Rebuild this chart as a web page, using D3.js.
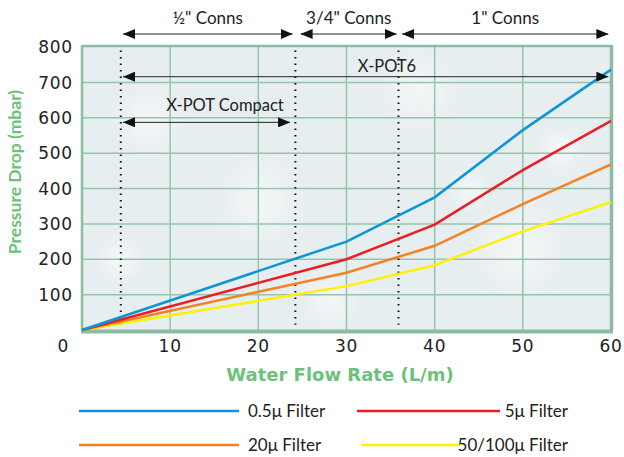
<!DOCTYPE html>
<html lang="en">
<head>
  <meta charset="UTF-8">
  <title>Pressure drop vs water flow rate</title>
  <script src="https://d3js.org/d3.v7.min.js"></script>
  <style>
    body { margin: 0; background: #fff; }
    svg { display: block; }
  </style>
</head>
<body>
  <div id="chart"></div>
  <script>
    // flow rate (L/m) and pressure drop (mbar) per filter
    const flowRate = [0, 30, 40, 50, 60];
    const filter05 = [0, 250, 375, 565, 736];
    const filter5 = [0, 200, 298, 452, 591];
    const filter20 = [0, 162, 238, 356, 468];
    const filter50 = [0, 124, 183, 279, 362];
    const seriesNames = ["0.5μ Filter", "5μ Filter", "20μ Filter", "50/100μ Filter"];
    const seriesColors = ["#0c95d7", "#ec1c24", "#f58220", "#fff200"];
    const xTicks = [10, 20, 30, 40, 50, 60];
    const yTicks = [100, 200, 300, 400, 500, 600, 700, 800];

    // annotations (in data units)
    const dividers = [4.4, 24.2, 35.9];
    const connLabels = ['½" Conns', '3/4" Conns', '1" Conns'];
    const connFrom = [4.65, 24.8, 36.3];
    const connTo = [23.9, 35.7, 59.7];
    const potLabels = ["X-POT6", "X-POT Compact"];
    const potFrom = [4.65, 4.65];
    const potTo = [59.7, 23.6];
    const potLevel = [716, 587];

    const width = 624, height = 457;
    const green = "#6cc17b";
    const labelFont = "Lato, 'Open Sans', sans-serif";
    const numFont = "'DejaVu Sans', sans-serif";

    const x = d3.scaleLinear().domain([0, 60]).range([82, 611]);
    const y = d3.scaleLinear().domain([0, 800]).range([330, 47]);

    const svg = d3.create("svg")
      .attr("width", width)
      .attr("height", height)
      .style("font-family", labelFont);

    const defs = svg.append("defs");
    defs.append("marker")
      .attr("id", "head")
      .attr("viewBox", "0 0 12 10")
      .attr("refX", 12).attr("refY", 5)
      .attr("markerWidth", 12).attr("markerHeight", 10)
      .attr("markerUnits", "userSpaceOnUse")
      .attr("orient", "auto-start-reverse")
      .append("path")
      .attr("d", "M0,0L12,5L0,10Z")
      .attr("fill", "#111");

    const bg = defs.append("radialGradient").attr("id", "bubble");
    bg.append("stop").attr("offset", "0%").attr("stop-color", "#ffffff").attr("stop-opacity", 0.5);
    bg.append("stop").attr("offset", "100%").attr("stop-color", "#ffffff").attr("stop-opacity", 0);

    // plot background
    svg.append("rect")
      .attr("x", x(0)).attr("y", y(800))
      .attr("width", x(60) - x(0)).attr("height", y(0) - y(800))
      .attr("fill", "#e7eef0");

    // soft bubble texture
    const bubbles = [[150, 120, 40], [260, 200, 50], [420, 90, 45], [520, 250, 55], [330, 300, 35], [120, 260, 30], [560, 150, 30], [470, 190, 25]];
    svg.append("g").selectAll("circle")
      .data(bubbles)
      .join("circle")
      .attr("cx", d => d[0]).attr("cy", d => d[1]).attr("r", d => d[2])
      .attr("fill", "url(#bubble)");

    // grid
    const grid = svg.append("g").attr("stroke", "#95c4ad").attr("stroke-width", 1.5);
    grid.selectAll(".vx").data(xTicks.slice(0, -1)).join("line")
      .attr("x1", d => x(d)).attr("x2", d => x(d))
      .attr("y1", y(800)).attr("y2", y(0));
    grid.selectAll(".hy").data(yTicks.slice(0, -1)).join("line")
      .attr("x1", x(0)).attr("x2", x(60))
      .attr("y1", d => y(d)).attr("y2", d => y(d));

    // frame
    const frame = svg.append("g").attr("stroke", "#8dbca5").attr("fill", "none");
    frame.append("line").attr("x1", x(0) - 1).attr("x2", x(60) + 2).attr("y1", y(0) + 1.5).attr("y2", y(0) + 1.5).attr("stroke-width", 4);
    frame.append("line").attr("x1", x(60) + 0.5).attr("x2", x(60) + 0.5).attr("y1", y(800) - 2).attr("y2", y(0)).attr("stroke-width", 3.5);
    frame.append("line").attr("x1", x(0)).attr("x2", x(60) + 2).attr("y1", y(800) - 1).attr("y2", y(800) - 1).attr("stroke-width", 2.5);
    frame.append("line").attr("x1", x(0)).attr("x2", x(0)).attr("y1", y(800) - 2).attr("y2", y(0)).attr("stroke-width", 2.5);

    // dotted dividers
    svg.append("g").selectAll("line").data(dividers).join("line")
      .attr("x1", d => x(d)).attr("x2", d => x(d))
      .attr("y1", y(790)).attr("y2", y(15))
      .attr("stroke", "#111").attr("stroke-width", 2)
      .attr("stroke-dasharray", "1.5,5");

    // series lines
    const series = [filter05, filter5, filter20, filter50];
    const line = d3.line().x((d, i) => x(flowRate[i])).y(d => y(d));
    svg.append("g").attr("fill", "none").attr("stroke-width", 2.5)
      .selectAll("path").data(series.slice().reverse()).join("path")
      .attr("stroke", (d, i) => seriesColors[3 - i])
      .attr("d", line);

    // arrows
    const arrows = svg.append("g").attr("stroke", "#222").attr("stroke-width", 1);
    connLabels.forEach((label, i) => {
      arrows.append("line")
        .attr("x1", x(connFrom[i])).attr("x2", x(connTo[i]))
        .attr("y1", 34).attr("y2", 34)
        .attr("marker-start", "url(#head)").attr("marker-end", "url(#head)");
      svg.append("text")
        .attr("x", (x(connFrom[i]) + x(connTo[i])) / 2).attr("y", 24)
        .attr("text-anchor", "middle").attr("font-size", 17).attr("fill", "#222")
        .text(label);
    });
    potLabels.forEach((label, i) => {
      arrows.append("line")
        .attr("x1", x(potFrom[i])).attr("x2", x(potTo[i]))
        .attr("y1", y(potLevel[i])).attr("y2", y(potLevel[i]))
        .attr("marker-start", "url(#head)").attr("marker-end", "url(#head)");
    });
    svg.append("text").attr("x", 387).attr("y", y(potLevel[0]) - 5)
      .attr("text-anchor", "middle").attr("font-size", 16.5).attr("fill", "#222").text(potLabels[0]);
    svg.append("text").attr("x", 225).attr("y", y(potLevel[1]) - 11)
      .attr("text-anchor", "middle").attr("font-size", 16.5).attr("fill", "#222").text(potLabels[1]);

    // axes tick labels
    svg.append("g").selectAll("text").data(xTicks).join("text")
      .attr("x", d => x(d)).attr("y", 352)
      .attr("text-anchor", "middle").attr("font-family", numFont)
      .attr("font-size", 17).attr("fill", "#222").attr("letter-spacing", 0.8)
      .text(d => d);
    svg.append("text").attr("x", 63).attr("y", 352)
      .attr("text-anchor", "middle").attr("font-family", numFont)
      .attr("font-size", 17).attr("fill", "#222").text("0");
    svg.append("g").selectAll("text").data(yTicks).join("text")
      .attr("x", 73).attr("y", d => y(d) + 6.2)
      .attr("text-anchor", "end").attr("font-family", numFont)
      .attr("font-size", 17).attr("fill", "#222").attr("letter-spacing", 0.8)
      .text(d => d);

    // axis titles
    svg.append("text").attr("x", 340).attr("y", 381)
      .attr("text-anchor", "middle").attr("font-family", numFont)
      .attr("font-size", 18).attr("font-weight", "bold")
      .attr("fill", green).text("Water Flow Rate (L/m)");
    svg.append("text").attr("transform", "translate(21,172) rotate(-90)")
      .attr("text-anchor", "middle")
      .attr("font-size", 17.5).attr("font-weight", "bold")
      .attr("fill", green).text("Pressure Drop (mbar)");

    // legend
    const legX1 = [79, 357, 79, 361];
    const legX2 = [239, 500, 239, 460];
    const legY = [411, 411, 445, 445];
    const legend = svg.append("g");
    seriesNames.forEach((name, i) => {
      legend.append("line")
        .attr("x1", legX1[i]).attr("x2", legX2[i])
        .attr("y1", legY[i]).attr("y2", legY[i])
        .attr("stroke", seriesColors[i]).attr("stroke-width", 2.5);
      const right = i % 2 === 1;
      legend.append("text")
        .attr("x", right ? 568 : 248).attr("y", legY[i] + 6)
        .attr("text-anchor", right ? "end" : "start")
        .attr("font-size", 17).attr("fill", "#222")
        .text(name);
    });

    document.getElementById("chart").appendChild(svg.node());
  </script>
</body>
</html>
